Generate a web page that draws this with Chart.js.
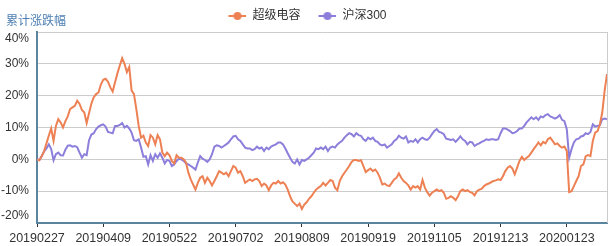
<!DOCTYPE html>
<html>
<head>
<meta charset="utf-8">
<script src="https://cdn.jsdelivr.net/npm/chart.js@4"></script>
<style>
  html, body { margin: 0; padding: 0; background: #fff; }
  #chart { display: block; }
</style>
</head>
<body>
<canvas id="chart" width="614" height="246"></canvas>
<script>
const seriesNames = ['超级电容', '沪深300']
const axisName = '累计涨跌幅'
const dateLabels = ['20190227', '20190409', '20190522', '20190702', '20190809', '20190919', '20191105', '20191213', '20200123']
const yTicks = [-20, -10, 0, 10, 20, 30, 40]

// cumulative change, %, one value per trading day
const capacitor = [
  0, -0.3, 1, 2.6, 5, 7.5, 9.7, 5.8, 10.5, 12.6,
  11.6, 10, 12, 13.5, 15.8, 16.3, 16.8, 18.4, 17.4, 15.5,
  14.7, 11.4, 14.5, 17.5, 19.5, 20.5, 21, 23.5, 25, 25.3,
  24.4, 22.6, 21.3, 24.2, 27, 29.5, 31.8, 30, 27.4, 29,
  21.6, 20.5, 15.8, 10.5, 6.8, 7.4, 5.3, 4.2, 7.6, 6.8,
  4.7, 7.6, 6.3, 2.1, 1, 2.1, 1.3, -0.5, -1.3, 1.3,
  0.5, 0.5, 0, -1, -4.2, -6.3, -7.9, -9.5, -7.4, -5.8,
  -5.3, -7.4, -5.8, -6.8, -8.2, -6.8, -5.3, -3.7, -4.2, -4.7,
  -4.2, -5.3, -3.7, -2.1, -2.6, -4.2, -3.7, -5.3, -7.4, -6.8,
  -6.3, -6.8, -6.3, -6.1, -6.8, -8.4, -7.6, -8.2, -9.7, -8.2,
  -7.4, -7.6, -6.8, -7.6, -7.2, -7.9, -9.5, -11.6, -13.2, -13.9,
  -14.7, -13.9, -15.6, -14.2, -13.5, -12.4, -11.6, -10.5, -9.5, -8.9,
  -8.4, -7.4, -8.2, -7.4, -6.5, -6.8, -8.9, -9.7, -6.8, -5.3,
  -4.2, -3.2, -2.1, -0.8, -0.2, -0.2, -0.5, -0.3, -2.1, -4,
  -3.4, -2.9, -3.7, -3.2, -4.2, -5.8, -7.9, -7.6, -8.2, -8.4,
  -7.4, -6.3, -5.8, -4.4, -5.8, -6.8, -7.4, -8.2, -9.5, -8.4,
  -8.9, -8.4, -9.5, -6.5, -8.9, -10.3, -11.4, -10.5, -10, -9.5,
  -10, -9.7, -10.5, -12.4, -12.1, -11.6, -12.1, -12.8, -11.6, -10,
  -9.5, -10, -9.7, -10.2, -10.5, -11.3, -10, -9.5, -9.3, -8.4,
  -7.9, -7.6, -7.2, -6.8, -6.6, -6.3, -6.5, -5.3, -3.7, -2.6,
  -2.1, -2.9, -4.7, -2.6, -0.5, 0.8, -0.2, 0.5, 1, 2.1,
  3.2, 4.2, 5.3, 4.4, 5.5, 5, 6.3, 6.8, 5.8, 4.7,
  5, 4.2, 3.7, 4, 2.6, -10.3, -10, -8.4, -6.8, -5.3,
  -2.1, -1.6, 1, 1.3, 1, 5.8, 8.4, 8.9, 11, 14.7,
  21.6, 26.8
]

const csi300 = [
  0, -0.2, 1, 2.5, 3.4, 4.7, 3.2, -0.3, 1.6, 2.1,
  1.3, 1.2, 3, 4.3, 4.4, 4, 4.2, 3.8, 2.1, 0.5,
  1.6, 1.3, 6, 7.8, 8.2, 9.5, 10.3, 10.7, 11, 10.3,
  8.6, 8.4, 8.2, 10.5, 10.5, 10.8, 11.4, 10, 10.5, 9.7,
  8.4, 6, 5.8, 6.3, 3.7, 0.8, 1, -1.6, 1.3, -0.5,
  1.6, 0.5, 1.9, 0.5, -1.3, -0.2, -0.5, -2.1, -1.6, -0.5,
  0.2, 0, -0.5, -1.3, -1.6, -2.1, -2.6, -3.2, -1, 1,
  0.2, -0.2, -0.8, 0, 1.6, 4, 4.4, 4.2, 3.7, 4.2,
  4.7, 5.3, 6.3, 7.2, 7.4, 6.3, 5.8, 4.7, 3.7, 3.4,
  3.4, 2.9, 3.2, 4, 3.4, 3.7, 2.6, 3.7, 3.2, 4,
  4.4, 4.7, 5.3, 5.3, 4.7, 3.4, 1.9, 0.5, -0.8, -1.3,
  0, -1.6, -0.2, -0.5, 0, 0.5, 1.3, 2.1, 3.4, 3.2,
  3.7, 3.2, 4, 2.6, 3.7, 4, 3.7, 4.7, 5.3, 5.8,
  6.8, 7.6, 8.2, 7.9, 7.2, 8.2, 7.6, 7.4, 6.3, 5.8,
  6.8, 6.3, 6.8, 5.8, 5.5, 4.7, 4.4, 4.7, 3.7, 4.2,
  4.7, 5.8, 6.3, 7.4, 6.8, 6.5, 7.2, 5.3, 5.8, 5.5,
  6.3, 5.3, 6.3, 6.8, 6.3, 6.1, 6.8, 7.9, 8.9, 9.5,
  8.6, 8.4, 7.9, 6.5, 6.3, 6.1, 6.3, 5.5, 6.3, 7.2,
  6.3, 5.8, 4.7, 5.5, 5.3, 4.2, 4.7, 5, 5.5, 5.8,
  6.3, 6.1, 6.3, 6.3, 6.1, 6.3, 8.2, 9.7, 9.7, 9.3,
  8.9, 8.2, 8.4, 8.9, 9.7, 9.7, 10.5, 11.6, 12.4, 13.2,
  12.6, 13.2, 12.4, 13.5, 13.2, 13.9, 14.2, 13.5, 13.2, 12.8,
  13.2, 13.9, 12.4, 12, 9.5, 0.5, 3.2, 5.3, 6.3, 6.5,
  7.2, 7.4, 8.2, 7.9, 8.6, 11, 10.3, 10.5, 10.7, 12.6,
  12.8, 12.6
]

const colors = ['#ed8154', '#8c7fdb']
const fontFamily = 'Arial, "Liberation Sans", "Noto Sans CJK SC", sans-serif'
const labelStep = 28

// "-●-" legend marker, drawn right-heavy so the gaps match the reference
function legendMarker(color) {
  const c = document.createElement('canvas')
  c.width = 26
  c.height = 12
  const g = c.getContext('2d')
  g.strokeStyle = color
  g.lineWidth = 2
  g.beginPath()
  g.moveTo(8, 6)
  g.lineTo(26, 6)
  g.stroke()
  g.fillStyle = color
  g.beginPath()
  g.arc(17, 6, 4, 0, Math.PI * 2)
  g.fill()
  return c
}

const toPoints = (arr) => arr.map((v, i) => ({ x: i, y: v }))

const chromePlugin = {
  id: 'chrome',
  beforeDraw(chart) {
    // nudge the end labels inside the plot, like the original
    const items = chart.scales.y.getLabelItems()
    if (!items._nudged) {
      items[0].options.translation[1] -= 7
      items[items.length - 1].options.translation[1] += 7
      items._nudged = true
    }
  },
  afterDraw(chart) {
    const { ctx, chartArea } = chart
    ctx.save()
    ctx.strokeStyle = '#cccccc'
    ctx.lineWidth = 1
    ctx.beginPath()
    ctx.moveTo(chartArea.right + 0.5, chartArea.top)
    ctx.lineTo(chartArea.right + 0.5, chartArea.bottom)
    ctx.stroke()
    ctx.font = '12px ' + fontFamily
    ctx.fillStyle = '#4d7fb3'
    ctx.textAlign = 'left'
    ctx.textBaseline = 'middle'
    ctx.fillText(axisName, 6, 22)
    ctx.restore()
  }
}

new Chart(document.getElementById('chart'), {
  type: 'line',
  data: {
    datasets: [
      { label: seriesNames[0], data: toPoints(capacitor), borderColor: colors[0], backgroundColor: colors[0] },
      { label: seriesNames[1], data: toPoints(csi300), borderColor: colors[1], backgroundColor: colors[1] }
    ]
  },
  plugins: [chromePlugin],
  options: {
    responsive: false,
    animation: false,
    events: [],
    layout: { padding: { left: 0, right: 7, top: 0, bottom: 0 } },
    elements: {
      line: { borderWidth: 2, tension: 0 },
      point: { radius: 0 }
    },
    scales: {
      x: {
        type: 'linear',
        min: 0,
        max: capacitor.length - 1,
        afterBuildTicks: (axis) => {
          axis.ticks = dateLabels.map((_, i) => ({ value: i * labelStep }))
        },
        afterFit: (s) => { s.height = 23 },
        grid: { drawOnChartArea: false, drawTicks: true, tickLength: 4, color: '#333333' },
        border: { color: '#5b849e', width: 2 },
        ticks: {
          autoSkip: false,
          maxRotation: 0,
          padding: 4,
          color: '#333333',
          font: { size: 12.5, family: fontFamily },
          callback: (value) => dateLabels[value / labelStep]
        }
      },
      y: {
        min: yTicks[0],
        max: yTicks[yTicks.length - 1],
        afterBuildTicks: (axis) => {
          axis.ticks = yTicks.map((value) => ({ value }))
        },
        afterFit: (s) => { s.width = 37 },
        grid: { color: '#cccccc', drawTicks: false },
        border: { color: '#5b849e', width: 2 },
        ticks: {
          padding: 8,
          color: '#333333',
          font: { size: 12, family: fontFamily },
          callback: (value) => value + '%'
        }
      }
    },
    plugins: {
      legend: {
        labels: {
          usePointStyle: true,
          pointStyleWidth: 26,
          padding: 10,
          color: '#333333',
          font: { size: 12, family: fontFamily },
          generateLabels: (chart) =>
            Chart.defaults.plugins.legend.labels.generateLabels(chart).map((item, i) => ({
              ...item,
              pointStyle: legendMarker(colors[i])
            }))
        }
      },
      tooltip: { enabled: false }
    }
  }
})
</script>
</body>
</html>
